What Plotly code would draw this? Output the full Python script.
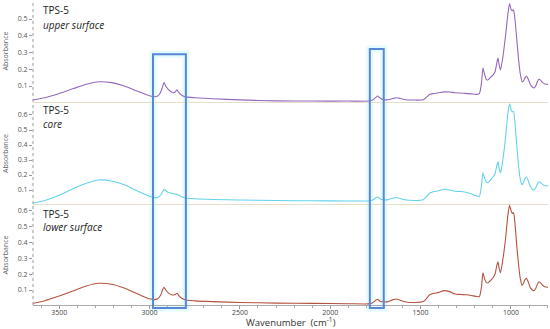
import plotly.graph_objects as go
from plotly.subplots import make_subplots

# wavenumber grid (cm-1), shared by the three spectra
wavenumber = [
    3645, 3580, 3500, 3420, 3350, 3280, 3210, 3140, 3070, 3000,
    2975, 2955, 2940, 2928, 2920, 2910, 2895, 2878, 2865, 2856,
    2848, 2838, 2822, 2800, 2750, 2650, 2500, 2300, 2100, 1900,
    1790, 1765, 1748, 1738, 1725, 1705, 1680, 1655, 1635, 1610,
    1580, 1530, 1485, 1465, 1450, 1430, 1400, 1370, 1340, 1310,
    1280, 1250, 1220, 1195, 1175, 1163, 1155, 1146, 1137, 1128,
    1115, 1100, 1088, 1078, 1072, 1066, 1058, 1045, 1030, 1018,
    1008, 1000, 993, 986, 978, 968, 958, 948, 938, 930,
    922, 914, 904, 893, 882, 873, 863, 854, 846, 836,
    825, 812, 800, 795,
]

upper_surface = [
    0.017, 0.030, 0.055, 0.085, 0.110, 0.125, 0.120, 0.100, 0.070, 0.042,
    0.036, 0.040, 0.060, 0.095, 0.120, 0.100, 0.078, 0.064, 0.060, 0.068,
    0.077, 0.060, 0.045, 0.035, 0.030, 0.024, 0.017, 0.011, 0.010, 0.010,
    0.010, 0.016, 0.032, 0.040, 0.028, 0.018, 0.018, 0.025, 0.030, 0.025,
    0.018, 0.016, 0.018, 0.035, 0.050, 0.055, 0.060, 0.065, 0.064, 0.060,
    0.058, 0.056, 0.053, 0.050, 0.055, 0.120, 0.207, 0.170, 0.140, 0.136,
    0.150, 0.165, 0.185, 0.240, 0.267, 0.230, 0.196, 0.270, 0.400, 0.520,
    0.592, 0.560, 0.550, 0.555, 0.500, 0.380, 0.260, 0.170, 0.125, 0.130,
    0.150, 0.160, 0.140, 0.110, 0.094, 0.088, 0.100, 0.125, 0.140, 0.135,
    0.120, 0.112, 0.110, 0.110,
]

core = [
    0.013, 0.030, 0.065, 0.110, 0.145, 0.167, 0.160, 0.135, 0.095, 0.058,
    0.048, 0.050, 0.065, 0.090, 0.105, 0.095, 0.083, 0.078, 0.075, 0.073,
    0.072, 0.065, 0.055, 0.047, 0.042, 0.037, 0.033, 0.030, 0.028, 0.027,
    0.027, 0.033, 0.048, 0.053, 0.042, 0.035, 0.036, 0.045, 0.050, 0.042,
    0.033, 0.030, 0.035, 0.060, 0.080, 0.088, 0.095, 0.105, 0.100, 0.092,
    0.090, 0.085, 0.075, 0.062, 0.058, 0.130, 0.215, 0.180, 0.155, 0.150,
    0.165, 0.185, 0.210, 0.265, 0.290, 0.250, 0.213, 0.300, 0.450, 0.600,
    0.675, 0.640, 0.620, 0.625, 0.550, 0.400, 0.260, 0.170, 0.135, 0.155,
    0.178, 0.187, 0.160, 0.125, 0.105, 0.100, 0.115, 0.140, 0.155, 0.150,
    0.138, 0.128, 0.127, 0.127,
]

lower_surface = [
    0.017, 0.033, 0.062, 0.095, 0.125, 0.142, 0.136, 0.112, 0.078, 0.045,
    0.040, 0.045, 0.065, 0.100, 0.117, 0.100, 0.080, 0.070, 0.069, 0.074,
    0.080, 0.065, 0.048, 0.037, 0.032, 0.027, 0.022, 0.018, 0.016, 0.014,
    0.013, 0.020, 0.036, 0.042, 0.030, 0.025, 0.027, 0.038, 0.044, 0.035,
    0.025, 0.022, 0.028, 0.050, 0.070, 0.078, 0.085, 0.096, 0.090, 0.075,
    0.072, 0.070, 0.066, 0.060, 0.058, 0.120, 0.208, 0.170, 0.148, 0.144,
    0.158, 0.175, 0.200, 0.255, 0.277, 0.240, 0.208, 0.290, 0.420, 0.560,
    0.630, 0.600, 0.580, 0.585, 0.520, 0.380, 0.260, 0.170, 0.128, 0.145,
    0.165, 0.173, 0.150, 0.115, 0.100, 0.096, 0.110, 0.135, 0.152, 0.145,
    0.130, 0.120, 0.117, 0.117,
]

samples = [
    ("upper surface", upper_surface, "#9469bd", [0.1, 0.2, 0.3, 0.4, 0.5], [0.0045, 0.6135]),
    ("core", core, "#63d3ea", [0.1, 0.2, 0.3, 0.4, 0.5, 0.6], [0.0067, 0.68]),
    ("lower surface", lower_surface, "#b4533f", [0.1, 0.2, 0.3, 0.4, 0.5, 0.6], [0.006, 0.633]),
]
domains = [[0.6656, 1.0], [0.3311, 0.6623], [0.0, 0.328]]
label_y = [(0.966, 0.919), (0.638, 0.594), (0.299, 0.257)]

fig = make_subplots(rows=3, cols=1, shared_xaxes=True)

for i, (name, vals, color, ticks, yr) in enumerate(samples):
    row = i + 1
    fig.add_trace(
        go.Scatter(x=wavenumber, y=vals, mode="lines", name=name,
                   line=dict(color=color, width=1.1, shape="spline", smoothing=0.6)),
        row=row, col=1,
    )
    fig.update_yaxes(
        row=row, col=1, domain=domains[i], range=yr,
        tickvals=ticks, ticktext=[f"{t:.1f}" for t in ticks],
        ticks="outside", ticklen=3, tickcolor="#999",
        tickfont=dict(size=7, color="#555"),
        showgrid=False, zeroline=False, showline=False,
        title=dict(text="Absorbance", font=dict(size=7, color="#666"), standoff=8),
    )
    # dotted left axis line
    fig.add_shape(type="line", xref="paper", yref="paper", x0=0, x1=0,
                  y0=domains[i][0], y1=domains[i][1],
                  line=dict(color="#999", width=1, dash="dot"))
    fig.add_annotation(text="TPS-5", xref="paper", yref="paper", x=0.0155, y=label_y[i][0],
                       xanchor="left", yanchor="middle", showarrow=False,
                       font=dict(size=10, color="#222"))
    fig.add_annotation(text=f"<i>{name}</i>", xref="paper", yref="paper", x=0.0155, y=label_y[i][1],
                       xanchor="left", yanchor="middle", showarrow=False,
                       font=dict(size=10, color="#222"))

for row in (1, 2):
    fig.update_xaxes(row=row, col=1, showline=True, linecolor="#e6dec6", linewidth=1,
                     showticklabels=False, ticks="", showgrid=False, zeroline=False)

fig.update_xaxes(
    row=3, col=1,
    tickvals=[3500, 3000, 2500, 2000, 1500, 1000],
    ticks="outside", ticklen=3, tickcolor="#999",
    minor=dict(dtick=100, ticks="outside", ticklen=2, tickcolor="#aaa"),
    showline=True, linecolor="#aaa", linewidth=1,
    tickfont=dict(size=7, color="#444"),
    ticklabelstandoff=-2,
    showgrid=False, zeroline=False,
)
fig.update_xaxes(range=[3645, 795])

fig.add_annotation(text="Wavenumber  (cm<sup>-1</sup>)", xref="paper", yref="paper",
                   x=0.5, y=-0.056, xanchor="center", yanchor="middle", showarrow=False,
                   font=dict(size=9.5, color="#333"))

# highlight boxes (CH stretch and C=O regions)
boxes = [(2981, 2799, 0.822), (1781, 1704, 0.839)]
for x0, x1, ytop in boxes:
    fig.add_shape(type="rect", xref="x3", yref="paper", x0=x0, x1=x1, y0=-0.01, y1=ytop,
                  line=dict(color="rgba(215,250,252,0.7)", width=7), layer="below")
    fig.add_shape(type="rect", xref="x3", yref="paper", x0=x0, x1=x1, y0=-0.01, y1=ytop,
                  line=dict(color="#5a86d6", width=2))

fig.update_layout(
    width=550, height=329,
    margin=dict(l=33, r=2, t=0, b=24),
    paper_bgcolor="white", plot_bgcolor="white",
    showlegend=False,
    font=dict(family="Open Sans"),
)

fig.write_html("out.html", config={"displayModeBar": False},
               post_script="document.body.style.margin='0px';")
